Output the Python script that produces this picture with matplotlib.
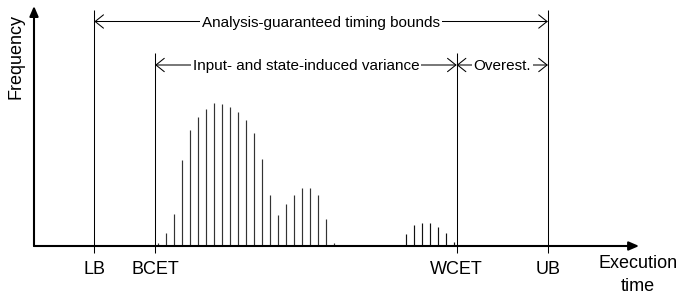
import matplotlib
matplotlib.use("Agg")
import matplotlib.pyplot as plt
from matplotlib.patches import FancyArrowPatch, ArrowStyle

plt.rcParams['font.family'] = ['Liberation Sans', 'DejaVu Sans']

# ---- data ----
bins_main = list(range(0, 23))
freq_main = [2.7, 13.3, 32, 86, 115.7, 129.3, 137.3, 143, 142.3, 139.3, 134, 126,
             112.7, 86.7, 50.7, 31.3, 41.7, 51.3, 57.7, 57.7, 51, 26.7, 3.3]
bins_tail = list(range(31, 38))
freq_tail = [12.3, 21.3, 23.3, 22.7, 19, 13.3, 4]

marker_names = ['LB', 'BCET', 'WCET', 'UB']
marker_x = [-8.0, -0.4, 37.3, 48.7]

span_labels = ['Analysis-guaranteed timing bounds',
               'Input- and state-induced variance',
               'Overest.']
span_from = ['LB', 'BCET', 'WCET']
span_to = ['UB', 'WCET', 'UB']
span_level = [224.5, 181, 181]

x_label_lines = ['Execution', 'time']
y_label = 'Frequency'

# ---- figure ----
fig = plt.figure(figsize=(6.83, 2.94), dpi=100)
ax = fig.add_axes([0, 0, 1, 1])
ax.set_xlim(-19.79, 65.59)
ax.set_ylim(-48, 246)
ax.axis('off')

pos = dict(zip(marker_names, marker_x))
x_axis_start, x_axis_end = -15.54, 60.1
y_axis_top = 240

# bars
ax.vlines(bins_main, 0, freq_main, color='#333333', lw=0.85)
ax.vlines(bins_tail, 0, freq_tail, color='#111111', lw=0.85)

# axes with filled arrowheads
ax.add_patch(FancyArrowPatch((x_axis_start, 0), (x_axis_end, 0),
             arrowstyle=ArrowStyle('-|>', head_length=6, head_width=2.6),
             mutation_scale=1, lw=1.5, color='black', shrinkA=0, shrinkB=0,
             zorder=5))
ax.add_patch(FancyArrowPatch((x_axis_start, 0), (x_axis_start, y_axis_top),
             arrowstyle=ArrowStyle('-|>', head_length=6, head_width=2.6),
             mutation_scale=1, lw=1.5, color='black', shrinkA=0, shrinkB=0,
             zorder=5))

# vertical marker lines
tops = {'LB': 236, 'UB': 236, 'BCET': 193, 'WCET': 193}
for name in marker_names:
    ax.plot([pos[name], pos[name]], [-7, tops[name]], color='black', lw=0.75,
            solid_capstyle='butt', zorder=4)
    ax.text(pos[name], -28, name, ha='center', va='baseline', fontsize=13)

# span arrows
for lab, a, b, yv in zip(span_labels, span_from, span_to, span_level):
    ax.add_patch(FancyArrowPatch((pos[a], yv), (pos[b], yv),
                 arrowstyle=ArrowStyle('<->', head_length=6, head_width=4.8),
                 mutation_scale=1, lw=0.75, color='black', shrinkA=0, shrinkB=0,
                 zorder=3))
    ax.text((pos[a] + pos[b]) / 2, yv - 5, lab, ha='center', va='baseline',
            fontsize=11, zorder=6,
            bbox=dict(boxstyle='square,pad=0.12', fc='white', ec='none'))

# axis labels
ax.text(-17.85, 189.5, y_label, rotation=90, ha='center', va='center', fontsize=13)
ax.text(60.0, -21.5, x_label_lines[0], ha='center', va='baseline', fontsize=13)
ax.text(60.0, -45.3, x_label_lines[1], ha='center', va='baseline', fontsize=13)

fig.savefig('out.png', dpi=100)
